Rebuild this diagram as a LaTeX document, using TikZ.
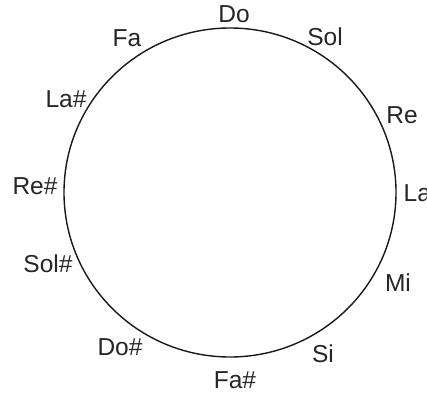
\documentclass[tikz,border=0pt]{standalone}
\usepackage{fontspec}
\setmainfont{Liberation Sans}
\begin{document}
\begin{tikzpicture}[x=1pt,y=-1pt,
  note/.style={font=\fontsize{24.5}{26}\selectfont, inner sep=0pt, text=black!85}]
\useasboundingbox (0,0) rectangle (427,399);
\draw[line width=1.4pt, black!90] (230,192.5) ellipse [x radius=166, y radius=164.5];
\node[note] (do)   at (234,14)  {Do};
\node[note] (sol)  at (325,37)  {Sol};
\node[note] (re)   at (402,115) {Re};
\node[note, anchor=west] (la) at (403.5,193) {La};
\node[note] (mi)   at (398,283) {Mi};
\node[note] (si)   at (323,354) {Si};
\node[note] (fas)  at (235,380) {Fa\#};
\node[note] (dos)  at (120,347) {Do\#};
\node[note] (sols) at (48,264)  {Sol\#};
\node[note] (res)  at (35,186)  {Re\#};
\node[note] (las)  at (66,99)   {La\#};
\node[note] (fa)   at (127,38)  {Fa};
\end{tikzpicture}
\end{document}
